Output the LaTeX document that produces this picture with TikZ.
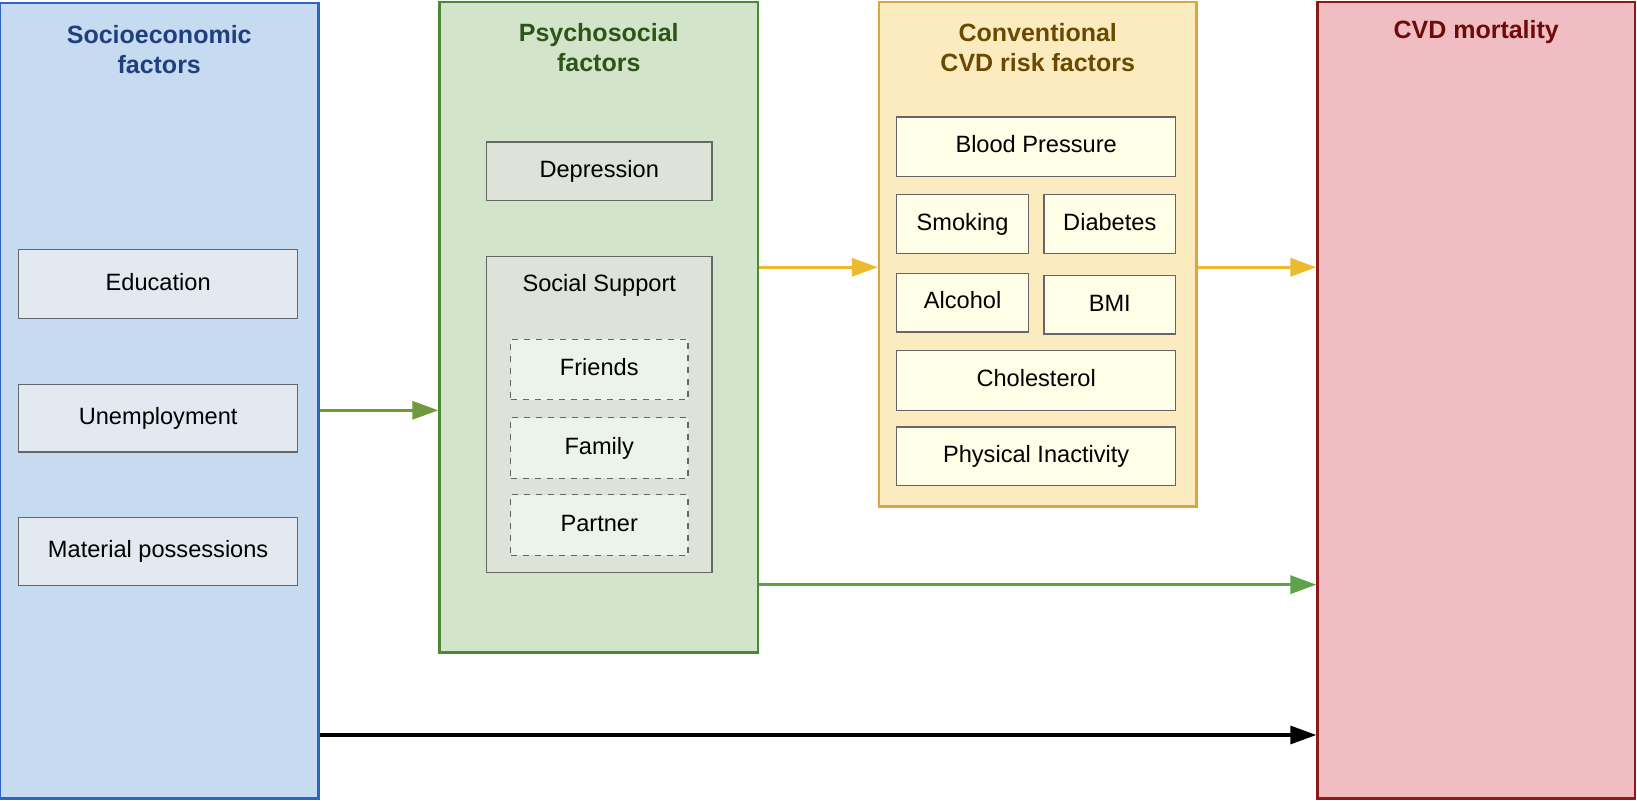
\documentclass[tikz,border=0pt]{standalone}
\usepackage{fontspec}
\setmainfont{Liberation Sans}
\usetikzlibrary{arrows.meta}
\definecolor{sefill}{HTML}{C6DBF0}\definecolor{sedraw}{HTML}{2F63C8}\definecolor{setext}{HTML}{1F3F7F}
\definecolor{psfill}{HTML}{D2E5CA}\definecolor{psdraw}{HTML}{4A8A30}\definecolor{pstext}{HTML}{2E5418}
\definecolor{cvfill}{HTML}{FDEBC0}\definecolor{cvdraw}{HTML}{D9A640}\definecolor{cvtext}{HTML}{6B4A00}
\definecolor{mofill}{HTML}{F0BEC2}\definecolor{modraw}{HTML}{8B1A1A}\definecolor{motext}{HTML}{6E0A0A}
\definecolor{seitem}{HTML}{E3E9F1}\definecolor{psitem}{HTML}{DDE3D8}\definecolor{psdash}{HTML}{ECF3E8}
\definecolor{cvitem}{HTML}{FFFFE8}\definecolor{agreen}{HTML}{6F9A3C}\definecolor{ayellow}{HTML}{EDB92E}
\definecolor{agreen2}{HTML}{5EA34A}
\begin{document}
\begin{tikzpicture}[x=0.522pt,y=-0.522pt,
  big/.style={draw, line width=1.2pt, inner sep=0pt},
  item/.style={draw=black!60, line width=0.6pt, inner sep=0pt, text height=8.6pt, text depth=2.4pt, font=\fontsize{11.8}{13}\selectfont},
  ttl/.style={font=\bfseries\fontsize{12.5}{15}\selectfont, align=center},
  arr/.style={line width=1.6pt, -{Triangle[length=13pt,width=9pt]}}]
\useasboundingbox (0,0) rectangle (1568,766.3);
% big boxes
\node[big, fill=sefill, draw=sedraw, minimum width=305*0.522pt, minimum height=762*0.522pt] (se) at (152.5,384) {};
\node[big, fill=psfill, draw=psdraw, minimum width=305*0.522pt, minimum height=623*0.522pt] (ps) at (573.5,313.5) {};
\node[big, fill=cvfill, draw=cvdraw, minimum width=304*0.522pt, minimum height=483*0.522pt] (cv) at (994,243.5) {};
\node[big, fill=mofill, draw=modraw, minimum width=304*0.522pt, minimum height=763*0.522pt] (mo) at (1414,383.5) {};
% titles
\node[ttl, text=setext] (set) at (152.5,47) {Socioeconomic\\factors};
\node[ttl, text=pstext] (pst) at (573.5,46) {Psychosocial\\factors};
\node[ttl, text=cvtext] (cvt) at (994,46) {Conventional\\CVD risk factors};
\node[ttl, text=motext] (mot) at (1414,31) {CVD mortality};
% socio items
\node[item, fill=seitem, minimum width=267*0.522pt, minimum height=66*0.522pt] (edu) at (151.5,272) {Education};
\node[item, fill=seitem, minimum width=267*0.522pt, minimum height=65*0.522pt] (une) at (151.5,400.5) {Unemployment};
\node[item, fill=seitem, minimum width=267*0.522pt, minimum height=65*0.522pt] (mat) at (151.5,528.5) {Material possessions};
% psycho items
\node[item, fill=psitem, minimum width=216*0.522pt, minimum height=56*0.522pt] (dep) at (574,164) {Depression};
\node[item, fill=psitem, minimum width=216*0.522pt, minimum height=302*0.522pt] (soc) at (574,397) {};
\node[font=\fontsize{11.8}{13}\selectfont] (socl) at (574,273) {Social Support};
\node[item, dashed, fill=psdash, minimum width=170*0.522pt, minimum height=58*0.522pt] (fri) at (574,354) {Friends};
\node[item, dashed, fill=psdash, minimum width=170*0.522pt, minimum height=58*0.522pt] (fam) at (574,429) {Family};
\node[item, dashed, fill=psdash, minimum width=170*0.522pt, minimum height=58*0.522pt] (par) at (574,503) {Partner};
% cvd items
\node[item, fill=cvitem, minimum width=267*0.522pt, minimum height=57*0.522pt] (bp) at (992.5,140.5) {Blood Pressure};
\node[item, fill=cvitem, minimum width=126*0.522pt, minimum height=57*0.522pt] (smo) at (922,214.5) {Smoking};
\node[item, fill=cvitem, minimum width=126*0.522pt, minimum height=57*0.522pt] (dia) at (1063,214.5) {Diabetes};
\node[item, fill=cvitem, minimum width=126*0.522pt, minimum height=56*0.522pt] (alc) at (922,290) {Alcohol};
\node[item, fill=cvitem, minimum width=126*0.522pt, minimum height=56*0.522pt] (bmi) at (1063,292) {BMI};
\node[item, fill=cvitem, minimum width=267*0.522pt, minimum height=57*0.522pt] (cho) at (992.5,364.5) {Cholesterol};
\node[item, fill=cvitem, minimum width=267*0.522pt, minimum height=56*0.522pt] (phy) at (992.5,437) {Physical Inactivity};
% arrows
\draw[arr, agreen] (se.east |- 0,393) -- (ps.west |- 0,393);
\draw[arr, ayellow] (ps.east |- 0,256) -- (cv.west |- 0,256);
\draw[arr, ayellow] (cv.east |- 0,256) -- (mo.west |- 0,256);
\draw[arr, agreen2] (ps.east |- 0,560) -- (mo.west |- 0,560);
\draw[arr, black] (se.east |- 0,704) -- (mo.west |- 0,704);
\end{tikzpicture}
\end{document}
